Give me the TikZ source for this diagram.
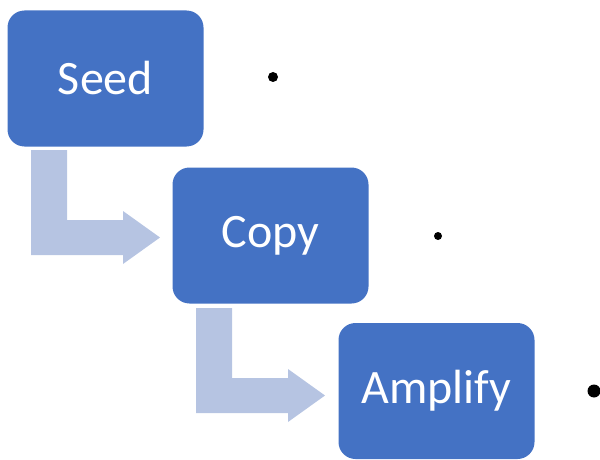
\documentclass[tikz,border=0pt]{standalone}
\usepackage{fontspec}
\setmainfont{Carlito}
\definecolor{boxblue}{RGB}{68,114,196}
\definecolor{arrowblue}{RGB}{182,196,226}
\tikzset{
  stagebox/.style={draw=none, fill=boxblue, rounded corners=17pt, minimum width=196pt, minimum height=136pt, inner sep=0pt, text=white, font=\fontsize{48}{54}\selectfont},
  dotmark/.style={circle, fill=black, inner sep=0pt},
  pics/bentarrow/.style={code={
    \fill[arrowblue] (0,0) -- (36,0) -- (36,70) -- (92,70) -- (92,61) -- (129,87.5) -- (92,114) -- (92,105) -- (0,105) -- cycle;
  }}
}
\begin{document}
\begin{tikzpicture}[x=1pt, y=-1pt]
\useasboundingbox (0,0) rectangle (600,460);
\node[stagebox] (seed) at (105.5,78.5) {Seed};
\node[stagebox] (copy) at (270.5,235.5) {Copy};
\node[stagebox] (amp) at (436.5,391) {Amplify};
\pic at (31,150) {bentarrow};
\pic at (196,308) {bentarrow};
\node[dotmark, minimum size=10pt] (d1) at (273,77) {};
\node[dotmark, minimum size=8pt] (d2) at (438,236) {};
\node[dotmark, minimum size=13pt] (d3) at (594,391) {};
\end{tikzpicture}
\end{document}
